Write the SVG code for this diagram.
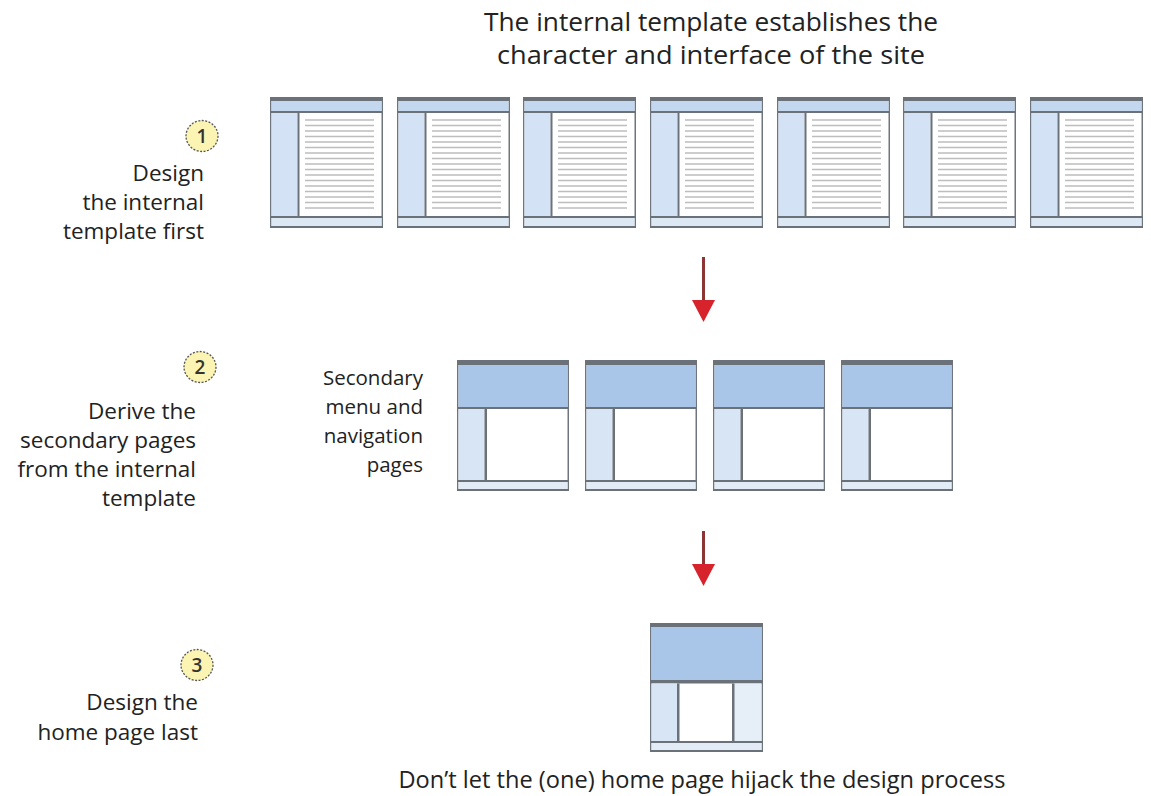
<svg xmlns="http://www.w3.org/2000/svg" xmlns:xlink="http://www.w3.org/1999/xlink" width="1151" height="796" viewBox="0 0 1151 796">
<style>
  text { font-family: "Open Sans", "Noto Sans", "DejaVu Sans", sans-serif; fill: #222; font-weight: 500; }
  .lbl { font-size: 22.5px; text-anchor: end; }
  .lbl2 { font-size: 20.5px; text-anchor: end; }
  .title { font-size: 25.5px; text-anchor: middle; }
  .cap { font-size: 23px; text-anchor: middle; }
  .num { font-size: 19px; text-anchor: middle; font-weight: 600; fill: #333; }
  .dk { fill: #6a7179; }
  .circ { fill: #fbf4b2; stroke: #555; stroke-width: 1.3; stroke-dasharray: 2 1.5; }
  .shaft { stroke: #8c3535; stroke-width: 3; }
  .head { fill: #d7232b; }
</style>
<defs>
  <g id="pg1">
    <rect x="0.75" y="0.75" width="111.5" height="129.5" fill="#fff" stroke="#6f757c" stroke-width="1.5"/>
    <rect class="dk" x="0" y="0" width="113" height="4"/>
    <rect x="1.5" y="4" width="110" height="10" fill="#c3d7ee"/>
    <rect class="dk" x="0" y="14" width="113" height="2"/>
    <rect x="1.5" y="16" width="26" height="103" fill="#d3e3f5"/>
    <rect class="dk" x="27.5" y="16" width="2" height="103"/>
    <path d="M35 23H104M35 28.5H104M35 34H104M35 39.5H104M35 45H104M35 50.5H104M35 56H104M35 61.5H104M35 67H104M35 72.5H104M35 78H104M35 83.5H104M35 89H104M35 94.5H104M35 100H104M35 105.5H104M35 111H104" stroke="#bdbdbd" stroke-width="1.6"/>
    <rect class="dk" x="0" y="119" width="113" height="2"/>
    <rect x="1.5" y="121" width="110" height="8" fill="#dde8f5"/>
    <rect class="dk" x="0" y="129" width="113" height="2"/>
  </g>
  <g id="pg2">
    <rect x="0.75" y="0.75" width="110.5" height="129.5" fill="#fff" stroke="#6f757c" stroke-width="1.5"/>
    <rect class="dk" x="0" y="0" width="112" height="5"/>
    <rect x="1.5" y="5" width="109" height="42" fill="#a9c6e9"/>
    <rect class="dk" x="0" y="47" width="112" height="2"/>
    <rect x="1.5" y="49" width="26" height="71" fill="#d7e5f5"/>
    <rect class="dk" x="27.5" y="49" width="2.5" height="71"/>
    <rect class="dk" x="0" y="120" width="112" height="2"/>
    <rect x="1.5" y="122" width="109" height="7" fill="#e3ecf6"/>
    <rect class="dk" x="0" y="129" width="112" height="2"/>
  </g>
</defs>

<g id="title">
  <text class="title" x="711" y="31" textLength="454" lengthAdjust="spacingAndGlyphs">The internal template establishes the</text>
  <text class="title" x="711" y="64" textLength="428" lengthAdjust="spacingAndGlyphs">character and interface of the site</text>
</g>

<g id="step1">
  <ellipse class="circ" cx="202" cy="136" rx="16" ry="15.5"/>
  <text class="num" x="202" y="142.5">1</text>
  <text class="lbl" x="204" y="181">Design</text>
  <text class="lbl" x="204" y="210">the internal</text>
  <text class="lbl" x="204" y="239">template first</text>
</g>

<g id="internal-templates">
  <use xlink:href="#pg1" x="270" y="97"/>
  <use xlink:href="#pg1" x="397" y="97"/>
  <use xlink:href="#pg1" x="523" y="97"/>
  <use xlink:href="#pg1" x="650" y="97"/>
  <use xlink:href="#pg1" x="777" y="97"/>
  <use xlink:href="#pg1" x="903" y="97"/>
  <use xlink:href="#pg1" x="1030" y="97"/>
</g>

<g id="step2">
  <ellipse class="circ" cx="200" cy="367" rx="16" ry="15.5"/>
  <text class="num" x="200" y="373.5">2</text>
  <text class="lbl" x="196" y="419">Derive the</text>
  <text class="lbl" x="196" y="448">secondary pages</text>
  <text class="lbl" x="196" y="477">from the internal</text>
  <text class="lbl" x="196" y="506">template</text>
</g>

<g id="secondary-label">
  <text class="lbl2" x="423" y="385">Secondary</text>
  <text class="lbl2" x="423" y="414">menu and</text>
  <text class="lbl2" x="423" y="443">navigation</text>
  <text class="lbl2" x="423" y="472">pages</text>
</g>

<g id="secondary-pages">
  <use xlink:href="#pg2" x="457" y="360"/>
  <use xlink:href="#pg2" x="585" y="360"/>
  <use xlink:href="#pg2" x="713" y="360"/>
  <use xlink:href="#pg2" x="841" y="360"/>
</g>

<g id="step3">
  <ellipse class="circ" cx="197" cy="665" rx="16" ry="15.5"/>
  <text class="num" x="197" y="671.5">3</text>
  <text class="lbl" x="198" y="710">Design the</text>
  <text class="lbl" x="198" y="740">home page last</text>
</g>

<g id="home-page">
  <rect x="650.75" y="623.75" width="111.5" height="127.5" fill="#fff" stroke="#6f757c" stroke-width="1.5"/>
  <rect class="dk" x="650" y="623" width="113" height="4"/>
  <rect x="651.5" y="627" width="110" height="53" fill="#a9c6e9"/>
  <rect class="dk" x="650" y="680" width="113" height="3.5"/>
  <rect x="651.5" y="683.5" width="25.5" height="58" fill="#d7e5f5"/>
  <rect class="dk" x="677" y="683.5" width="2.5" height="58"/>
  <rect x="734" y="683.5" width="27.5" height="58" fill="#e6eef8"/>
  <rect class="dk" x="732" y="683.5" width="2.5" height="58"/>
  <rect class="dk" x="650" y="741" width="113" height="2"/>
  <rect x="651.5" y="743" width="110" height="7" fill="#e3ecf6"/>
  <rect class="dk" x="650" y="750" width="113" height="2"/>
</g>

<g id="connectors">
  <line class="shaft" x1="703.5" y1="257" x2="703.5" y2="302"/>
  <polygon class="head" points="692,300 715,300 703.5,322"/>
  <line class="shaft" x1="703.5" y1="531" x2="703.5" y2="566"/>
  <polygon class="head" points="692,564 715,564 703.5,586"/>
</g>

<g id="caption">
  <text class="cap" x="702" y="788" textLength="607" lengthAdjust="spacingAndGlyphs">Don’t let the (one) home page hijack the design process</text>
</g>
</svg>
